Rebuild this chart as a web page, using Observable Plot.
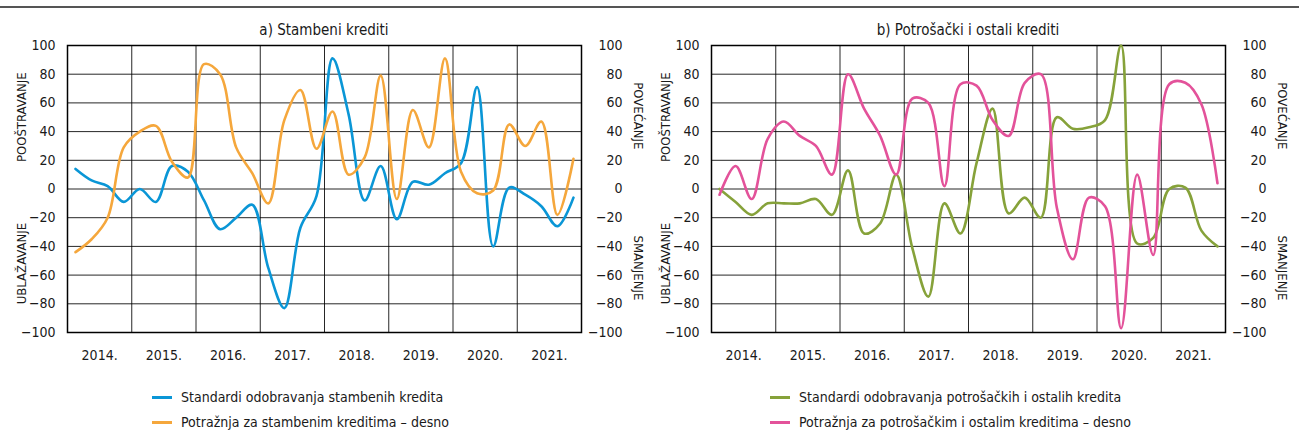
<!DOCTYPE html>
<html>
<head>
<meta charset="utf-8">
<script src="https://cdn.jsdelivr.net/npm/d3@7"></script>
<script src="https://cdn.jsdelivr.net/npm/@observablehq/plot@0.6"></script>
<style>
  html, body { margin: 0; padding: 0; background: #fff; }
  body { font-family: "Liberation Sans Narrow", "DejaVu Sans Condensed", "Arial Narrow", sans-serif; color: #1a1a1a; }
  #wrap { position: relative; width: 1299px; height: 434px; overflow: hidden; }
  .rule { position: absolute; left: 0; top: 6px; width: 1299px; height: 2px; background: #555; }
  .title { position: absolute; top: 21px; font-size: 15px; text-align: center; width: 514px; }
  .panel { position: absolute; top: 0; }
  .legend { position: absolute; font-size: 14px; }
  .legend .row { position: absolute; white-space: nowrap; display: flex; align-items: center; }
  .legend .sw { display: inline-block; width: 20px; height: 3px; margin-right: 9px; }
</style>
</head>
<body>
<div id="wrap">
  <div class="rule"></div>
</div>
<script>
// Quarterly data 2014 Q1 – 2021 Q4
const years = [2014, 2015, 2016, 2017, 2018, 2019, 2020, 2021];
const yTicks = [-100, -80, -60, -40, -20, 0, 20, 40, 60, 80, 100];

const titleA = "a) Stambeni krediti";
const titleB = "b) Potrošački i ostali krediti";

const nameA1 = "Standardi odobravanja stambenih kredita";
const nameA2 = "Potražnja za stambenim kreditima – desno";
const nameB1 = "Standardi odobravanja potrošačkih i ostalih kredita";
const nameB2 = "Potražnja za potrošačkim i ostalim kreditima – desno";

const housingStandards = [14, 6, 2, -9, 0, -9, 16, 12, -8, -28, -20, -11, -55, -83, -27, -5,
                          91, 52, -8, 16, -21, 5, 3, 11, 18, 71, -40, 1, -4, -12, -26, -6];
const housingDemand    = [-44, -35, -20, 29, 40, 44, 19, 8, 87, 80, 29, 11, -10, 48, 69, 28,
                          54, 10, 22, 79, -7, 55, 29, 91, 12, -3, -1, 45, 30, 47, -18, 21];
const consumerStandards = [0, -9, -18, -10, -10, -10, -7, -18, 13, -31, -24, 10, -41, -75, -10, -31,
                           18, 56, -17, -6, -20, 50, 42, 43, 48, 100, -38, -34, 0, 1, -29, -40];
const consumerDemand    = [-4, 16, -7, 35, 47, 37, 30, 10, 80, 56, 37, 10, 63, 60, 2, 73,
                           72, 48, 37, 74, 80, -13, -49, -6, -12, -97, 10, -46, 73, 74, 59, 4];

const leftTop = "POOŠTRAVANJE", leftBottom = "UBLAŽAVANJE";
const rightTop = "POVEĆANJE", rightBottom = "SMANJENJE";

const colors = { blue: "#0a96d6", orange: "#f5a73c", green: "#86a23a", pink: "#e3529a" };
const FONT = '"Liberation Sans Narrow", "DejaVu Sans Condensed", "Arial Narrow", sans-serif';

const quarterTimes = years.flatMap(y => [0, 1, 2, 3].map(q => y + (q + 0.5) / 4));
const fmt = d => d < 0 ? "\u2212" + Math.abs(d) : String(d);

function panel(s1, s2, c1, c2) {
  const data = quarterTimes.map((t, i) => ({ t, a: s1[i], b: s2[i] }));
  const yearMids = years.map(y => y + 0.5);
  const bounds = years.concat([years[years.length - 1] + 1]);
  return Plot.plot({
    width: 650, height: 434,
    marginLeft: 67, marginRight: 69, marginTop: 45, marginBottom: 102,
    style: { fontFamily: FONT, fontSize: "14px", color: "#1a1a1a", background: "transparent", overflow: "visible" },
    x: { domain: [bounds[0], bounds[bounds.length - 1]], label: null },
    y: { domain: [-100, 100], label: null },
    marks: [
      Plot.gridY({ ticks: yTicks, stroke: "#000", strokeOpacity: 0.85, strokeWidth: 1 }),
      Plot.gridX({ ticks: bounds, stroke: "#000", strokeOpacity: 0.85, strokeWidth: 1 }),
      Plot.frame({ stroke: "#000", strokeWidth: 1.5 }),
      Plot.axisY({ anchor: "left", ticks: yTicks, tickSize: 0, tickPadding: 12, tickFormat: fmt, label: null }),
      Plot.axisY({ anchor: "right", ticks: yTicks, tickSize: 0, tickPadding: 41, textAnchor: "end", tickFormat: fmt, label: null }),
      Plot.axisX({ ticks: yearMids, tickSize: 0, tickPadding: 18, tickFormat: d => Math.floor(d) + ".", label: null }),
      Plot.line(data, { x: "t", y: "a", curve: "catmull-rom", stroke: c1, strokeWidth: 2.6 }),
      Plot.line(data, { x: "t", y: "b", curve: "catmull-rom", stroke: c2, strokeWidth: 2.6 }),
      Plot.text([{ v: 50, s: leftTop }, { v: -52, s: leftBottom }],
        { y: "v", text: "s", frameAnchor: "left", textAnchor: "middle", dx: -46, rotate: -90, fontSize: 13, fill: "#1a1a1a" }),
      Plot.text([{ v: 51, s: rightTop }, { v: -55, s: rightBottom }],
        { y: "v", text: "s", frameAnchor: "right", textAnchor: "middle", dx: 57, rotate: 90, fontSize: 13, fill: "#1a1a1a" })
    ]
  });
}

const wrap = document.getElementById("wrap");
function addPanel(left, title, s1, s2, c1, c2, n1, n2, legLeft) {
  const p = document.createElement("div");
  p.className = "panel";
  p.style.left = left + "px";
  p.appendChild(panel(s1, s2, c1, c2));
  wrap.appendChild(p);
  const t = document.createElement("div");
  t.className = "title";
  t.style.left = (left + 67) + "px";
  t.textContent = title;
  wrap.appendChild(t);
  const lg = document.createElement("div");
  lg.className = "legend";
  [[n1, c1, 389], [n2, c2, 414]].forEach(([n, c, top]) => {
    const r = document.createElement("div");
    r.className = "row";
    r.style.left = legLeft + "px";
    r.style.top = top + "px";
    const sw = document.createElement("span");
    sw.className = "sw";
    sw.style.background = c;
    const tx = document.createElement("span");
    tx.textContent = n;
    r.appendChild(sw); r.appendChild(tx);
    lg.appendChild(r);
  });
  wrap.appendChild(lg);
}
addPanel(0, titleA, housingStandards, housingDemand, colors.blue, colors.orange, nameA1, nameA2, 152);
addPanel(644, titleB, consumerStandards, consumerDemand, colors.green, colors.pink, nameB1, nameB2, 770);
</script>
</body>
</html>
